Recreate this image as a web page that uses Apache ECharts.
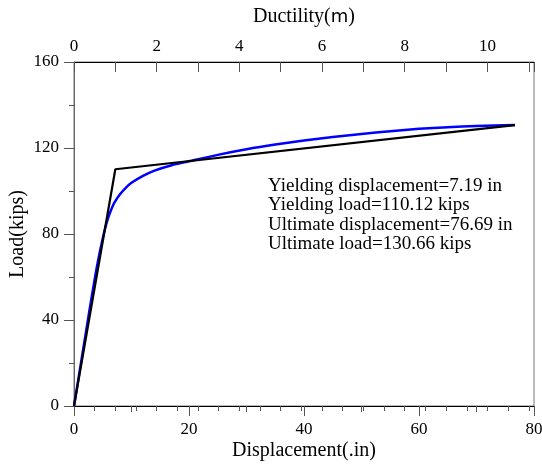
<!DOCTYPE html>
<html>
<head>
<meta charset="utf-8">
<script src="https://cdn.jsdelivr.net/npm/echarts@6/dist/echarts.min.js"></script>
<style>
    html, body { margin: 0; padding: 0; background: #fff; }
    #main { width: 542px; height: 466px; }
</style>
</head>
<body>
<div id="main"></div>
<script type="text/javascript">
    // 屈服/极限点
    var yieldDisp = 7.19;
    var yieldLoad = 110.12;
    var ultDisp = 76.69;
    var ultLoad = 130.66;

    // 推覆曲线(蓝线) 读图估值
    var curveDisp = [0, 1, 2, 3, 4, 5, 5.5, 6, 6.5, 7, 8, 9, 10, 12, 14, 17, 20, 25, 30, 35, 40, 45, 50, 55, 60, 65, 70, 76.69];
    var curveLoad = [0, 16.5, 33, 49.5, 65, 78, 83.5, 88, 91.5, 94.5, 98.5, 101.5, 103.8, 107, 109.5, 112, 113.8, 116.8, 119.4, 121.6, 123.5, 125.1, 126.5, 127.8, 128.9, 129.7, 130.2, 130.66];

    // 双线性(黑线)
    var bilinDisp = [0, yieldDisp, ultDisp];
    var bilinLoad = [0, yieldLoad, ultLoad];

    var annoLines = [
        'Yielding displacement=' + yieldDisp + ' in',
        'Yielding load=' + yieldLoad + ' kips',
        'Ultimate displacement=' + ultDisp + ' in',
        'Ultimate load=' + ultLoad + ' kips'
    ];

    var serif = "'Liberation Serif', 'Times New Roman', serif";

    function pairs(xs, ys) {
        var out = [];
        for (var i = 0; i < xs.length; i++) out.push([xs[i], ys[i]]);
        return out;
    }

    var myChart = echarts.init(document.getElementById('main'));
    var option = {
        animation: false,
        backgroundColor: '#fff',
        grid: {
            left: 74, right: 8, top: 62, bottom: 60, outerBoundsMode: 'none',
            show: true, borderColor: '#777', borderWidth: 1
        },
        xAxis: [
            {
                type: 'value', position: 'bottom', min: 0, max: 80, interval: 20,
                name: 'Displacement(.in)', nameLocation: 'middle', nameGap: 35, nameMoveOverlap: false,
                nameTextStyle: { fontFamily: serif, fontSize: 20, color: '#000' },
                axisLine: { onZero: false, lineStyle: { color: '#000', width: 1 } },
                axisTick: { length: 10, lineStyle: { color: '#555' } },
                minorTick: { show: true, splitNumber: 2, length: 6, lineStyle: { color: '#555' } },
                axisLabel: { fontFamily: serif, fontSize: 17, color: '#000', margin: 15 },
                splitLine: { show: false }
            },
            {
                type: 'value', position: 'top', min: 0, max: 80 / yieldDisp, interval: 1,
                name: 'Ductility({m|m})', nameLocation: 'middle', nameGap: 35, nameMoveOverlap: false,
                nameTextStyle: { fontFamily: serif, fontSize: 20, color: '#000',
                    rich: { m: { fontFamily: "'DejaVu Sans', sans-serif", fontSize: 18, color: '#000' } } },
                axisLine: { onZero: false, lineStyle: { color: '#000', width: 1 } },
                axisTick: { inside: true, length: 10, lineStyle: { color: '#555' } },
                minorTick: { show: false },
                axisLabel: {
                    fontFamily: serif, fontSize: 17, color: '#000', margin: 7,
                    formatter: function (v) {
                        var r = Math.round(v);
                        return (Math.abs(v - r) < 1e-6 && r % 2 === 0) ? String(r) : '';
                    }
                },
                splitLine: { show: false }
            },
            {
                type: 'value', position: 'top', min: 0, max: 80 / yieldDisp, interval: 0.5,
                axisLine: { show: false },
                axisTick: { inside: true, length: 5, lineStyle: { color: '#555' } },
                axisLabel: { show: false },
                splitLine: { show: false }
            }
        ],
        yAxis: {
            type: 'value', min: 0, max: 160, interval: 40,
            name: 'Load(kips)', nameLocation: 'middle', nameGap: 46, nameMoveOverlap: false,
            nameTextStyle: { fontFamily: serif, fontSize: 20, color: '#000' },
            axisLine: { show: true, onZero: false, lineStyle: { color: '#666', width: 1 } },
            axisTick: { show: true, length: 10, lineStyle: { color: '#555' } },
            minorTick: { show: true, splitNumber: 2, length: 5, lineStyle: { color: '#555' } },
            axisLabel: { fontFamily: serif, fontSize: 17, color: '#000', margin: 15 },
            splitLine: { show: false }
        },
        series: [
            {
                type: 'line', xAxisIndex: 0, data: pairs(curveDisp, curveLoad),
                showSymbol: false, smooth: 0.25,
                lineStyle: { color: '#0000ff', width: 2.5 }
            },
            {
                type: 'line', xAxisIndex: 0, data: pairs(bilinDisp, bilinLoad),
                showSymbol: false,
                lineStyle: { color: '#000', width: 2.2 }
            }
        ],
        graphic: [{
            type: 'text', left: 268, top: 176,
            style: {
                text: annoLines.join('\n'), fontFamily: serif, fontSize: 19,
                lineHeight: 19.5, fill: '#000'
            }
        }]
    };
    myChart.setOption(option);
</script>
</body>
</html>
